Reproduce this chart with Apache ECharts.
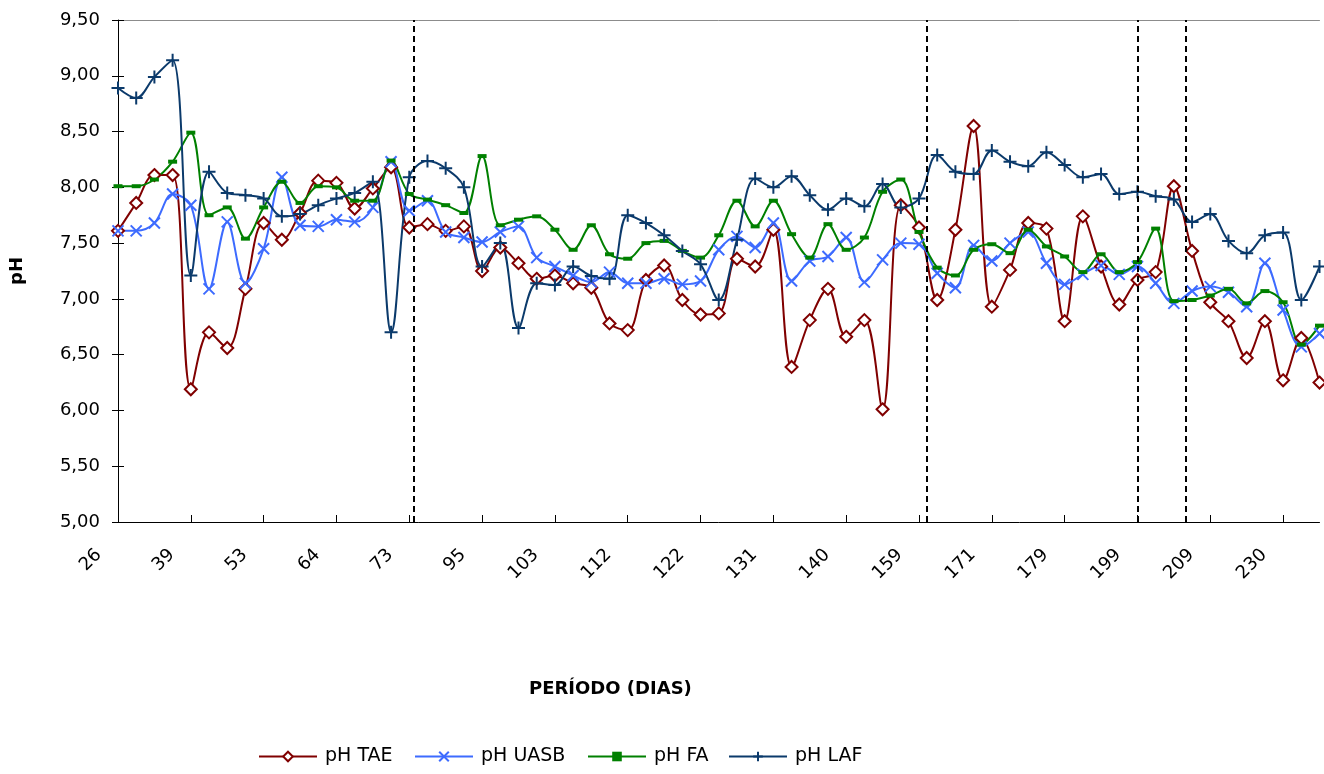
<!DOCTYPE html>
<html>
<head>
<meta charset="utf-8">
<script src="https://cdn.jsdelivr.net/npm/echarts@6/dist/echarts.min.js"></script>
<style>
  html, body { margin: 0; padding: 0; background: #fff; }
  #chart { width: 1324px; height: 774px; }
</style>
</head>
<body>
<div id="chart"></div>
<script>
// Day labels shown every 4th sampling point along the horizontal axis
const tickLabels = ['26', '39', '53', '64', '73', '95', '103', '112', '122', '131', '140', '159', '171', '179', '199', '209', '230'];
const labelEvery = 4;

// pH readings per sampling point (67 points)
const phTAE = [7.61, 7.86, 8.11, 8.11, 6.19, 6.70, 6.56, 7.09, 7.68, 7.53, 7.77, 8.06, 8.04, 7.81, 7.99, 8.18, 7.64, 7.67, 7.61, 7.65, 7.25, 7.46, 7.32, 7.18, 7.21, 7.14, 7.10, 6.78, 6.72, 7.17, 7.30, 6.99, 6.86, 6.87, 7.36, 7.29, 7.62, 6.39, 6.81, 7.09, 6.66, 6.81, 6.01, 7.84, 7.64, 6.99, 7.62, 8.55, 6.93, 7.26, 7.68, 7.63, 6.80, 7.74, 7.29, 6.95, 7.17, 7.24, 8.01, 7.43, 6.97, 6.80, 6.47, 6.80, 6.27, 6.65, 6.25];
const phUASB = [7.61, 7.61, 7.68, 7.94, 7.84, 7.09, 7.69, 7.14, 7.45, 8.09, 7.66, 7.65, 7.71, 7.69, 7.82, 8.23, 7.79, 7.88, 7.60, 7.55, 7.51, 7.60, 7.65, 7.37, 7.29, 7.21, 7.15, 7.24, 7.14, 7.14, 7.18, 7.13, 7.16, 7.44, 7.56, 7.46, 7.68, 7.16, 7.34, 7.38, 7.55, 7.15, 7.35, 7.50, 7.49, 7.23, 7.10, 7.48, 7.34, 7.50, 7.60, 7.32, 7.13, 7.22, 7.30, 7.22, 7.29, 7.14, 6.96, 7.07, 7.11, 7.06, 6.93, 7.32, 6.90, 6.57, 6.69];
const phFA = [8.01, 8.01, 8.07, 8.23, 8.49, 7.75, 7.82, 7.54, 7.82, 8.05, 7.86, 8.01, 8.00, 7.88, 7.88, 8.24, 7.94, 7.89, 7.84, 7.77, 8.28, 7.66, 7.71, 7.74, 7.62, 7.44, 7.66, 7.40, 7.36, 7.50, 7.52, 7.43, 7.37, 7.57, 7.88, 7.65, 7.88, 7.58, 7.37, 7.67, 7.44, 7.55, 7.96, 8.07, 7.60, 7.28, 7.21, 7.44, 7.49, 7.41, 7.62, 7.47, 7.38, 7.24, 7.40, 7.24, 7.33, 7.63, 6.98, 6.99, 7.03, 7.09, 6.96, 7.07, 6.97, 6.59, 6.76];
const phLAF = [8.89, 8.80, 8.99, 9.14, 7.21, 8.14, 7.95, 7.93, 7.90, 7.74, 7.76, 7.84, 7.90, 7.95, 8.05, 6.70, 8.09, 8.235, 8.17, 8.00, 7.29, 7.50, 6.74, 7.14, 7.125, 7.29, 7.205, 7.18, 7.75, 7.68, 7.57, 7.43, 7.31, 6.99, 7.53, 8.08, 8.00, 8.10, 7.93, 7.80, 7.90, 7.83, 8.03, 7.82, 7.90, 8.29, 8.14, 8.12, 8.33, 8.23, 8.19, 8.315, 8.20, 8.09, 8.12, 7.94, 7.96, 7.92, 7.89, 7.69, 7.76, 7.52, 7.41, 7.57, 7.595, 6.99, 7.29];

// Operating-phase boundaries, in sampling-point units
const phaseBoundaries = [16.26, 44.42, 56.03, 58.63];

const seriesNames = ['pH TAE', 'pH UASB', 'pH FA', 'pH LAF'];
const seriesColors = ['#800000', '#3D6BFF', '#008000', '#0B3A6B'];
const legendLefts = [258, 414, 587, 728];

const FONT = '"DejaVu Sans", sans-serif';
const pointCount = phTAE.length;
const categories = phTAE.map((_, i) => String(i));

function dayLabel(value, index) {
  return index % labelEvery === 0 ? (tickLabels[index / labelEvery] || '') : '';
}

function lineSeries(name, values, color, symbol, symbolSize, itemStyle) {
  return {
    name: name,
    type: 'line',
    data: values,
    smooth: 0.35,
    symbol: symbol,
    symbolSize: symbolSize,
    showAllSymbol: true,
    lineStyle: { color: color, width: 2 },
    itemStyle: Object.assign({ color: color }, itemStyle),
    emphasis: { disabled: true },
    z: 3
  };
}

const chart = echarts.init(document.getElementById('chart'), null, { renderer: 'canvas' });

chart.setOption({
  animation: false,
  backgroundColor: '#fff',
  textStyle: { fontFamily: FONT },
  title: {
    text: 'PERÍODO (DIAS)',
    left: 529,
    top: 680,
    padding: 0,
    textStyle: { fontFamily: FONT, fontSize: 18, fontWeight: 'bold', color: '#000' }
  },
  legend: seriesNames.map((name, k) => ({
    data: [name],
    left: legendLefts[k],
    top: 747,
    padding: 0,
    itemWidth: 58,
    itemHeight: 12,
    selectedMode: false,
    textStyle: { fontFamily: FONT, fontSize: 19, color: '#000', padding: [0, 0, 0, 3] }
  })),
  grid: { left: 117, right: 4.5, top: 20, bottom: 252, containLabel: false },
  xAxis: [
    {
      type: 'category',
      data: categories,
      boundaryGap: false,
      axisLine: { onZero: false, lineStyle: { color: '#000', width: 1 } },
      axisTick: { show: true, inside: true, length: 7, interval: labelEvery - 1, lineStyle: { color: '#000' } },
      axisLabel: {
        interval: labelEvery - 1,
        rotate: 45,
        margin: 11,
        padding: [0, 27, 0, 0],
        fontFamily: FONT,
        fontSize: 18,
        color: '#000',
        formatter: dayLabel
      },
      splitLine: { show: false }
    },
    {
      type: 'value',
      position: 'top',
      min: 0,
      max: pointCount - 1,
      axisLine: { show: true, onZero: false, lineStyle: { color: '#8c8c8c', width: 1 } },
      axisTick: { show: false },
      axisLabel: { show: false },
      splitLine: { show: false }
    }
  ],
  yAxis: [
    {
      type: 'value',
      min: 5,
      max: 9.5,
      interval: 0.5,
      name: 'pH',
      nameLocation: 'middle',
      nameRotate: 90,
      nameGap: 92,
      nameTextStyle: { fontFamily: FONT, fontSize: 18, fontWeight: 'bold', color: '#000' },
      axisLine: { show: true, onZero: false, lineStyle: { color: '#000', width: 1 } },
      axisTick: { show: true, length: 6, lineStyle: { color: '#000' } },
      axisLabel: {
        margin: 18,
        fontFamily: FONT,
        fontSize: 18,
        color: '#000',
        formatter: v => v.toFixed(2).replace('.', ',')
      },
      splitLine: { show: false }
    },
    {
      type: 'value',
      position: 'left',
      min: 5,
      max: 9.5,
      interval: 0.5,
      axisLine: { show: false },
      axisTick: { show: true, inside: true, length: 6, lineStyle: { color: '#000' } },
      axisLabel: { show: false },
      splitLine: { show: false }
    }
  ],
  series: [
    lineSeries(seriesNames[0], phTAE, seriesColors[0], 'emptyDiamond', 12, { borderWidth: 2, borderColor: seriesColors[0] }),
    lineSeries(seriesNames[1], phUASB, seriesColors[1], 'path://M0,0L10,10M10,0L0,10', 11, { borderWidth: 2, borderColor: seriesColors[1] }),
    lineSeries(seriesNames[2], phFA, seriesColors[2], 'rect', [9, 4], { borderWidth: 0 }),
    lineSeries(seriesNames[3], phLAF, seriesColors[3], 'path://M5,0L5,10M0,5L10,5', 13, { borderWidth: 2, borderColor: seriesColors[3] }),
    {
      name: 'phases',
      type: 'line',
      xAxisIndex: 1,
      yAxisIndex: 0,
      data: [],
      symbol: 'none',
      silent: true,
      markLine: {
        silent: true,
        symbol: ['none', 'none'],
        label: { show: false },
        lineStyle: { color: '#000', type: [6, 4], width: 2 },
        emphasis: { disabled: true },
        data: phaseBoundaries.map(v => ({ xAxis: v }))
      },
      z: 4
    }
  ]
});
</script>
</body>
</html>
